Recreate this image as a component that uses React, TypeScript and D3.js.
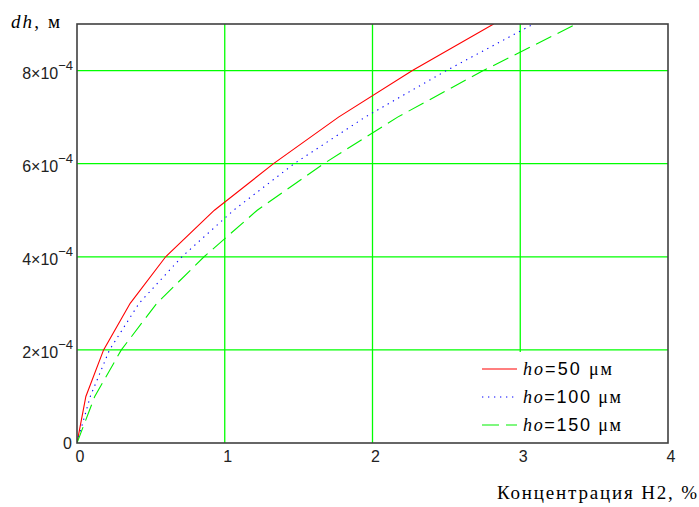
import React from "react";
import * as d3 from "d3";

const dhValues = [0, 1e-4, 2e-4, 3e-4, 4e-4, 5e-4, 6e-4, 7e-4, 8e-4, 9e-4];
const concHo50 = [0, 0.06, 0.18, 0.36, 0.6, 0.93, 1.33, 1.77, 2.27, 2.82];
const concHo100 = [0, 0.09, 0.22, 0.42, 0.71, 1.06, 1.47, 1.95, 2.5, 3.09];
const concHo150 = [0, 0.12, 0.3, 0.54, 0.86, 1.22, 1.67, 2.17, 2.75, 3.38];
const seriesLabels = ["50", "100", "150"];
const xTicks = [0, 1, 2, 3, 4];
const yTicks = [0, 2e-4, 4e-4, 6e-4, 8e-4];
const yTickMant = ["0", "2", "4", "6", "8"];

const W = 699;
const H = 507;
const M = { left: 77, right: 668, top: 24, bottom: 443 };

export default function App() {
  const x = d3.scaleLinear().domain([0, 4]).range([M.left, M.right]);
  const y = d3.scaleLinear().domain([0, 9e-4]).range([M.bottom, M.top]);
  const line = d3
    .line<[number, number]>()
    .x((d) => x(d[0]))
    .y((d) => y(d[1]));

  const series = [
    { data: concHo50, color: "#ff0000", dash: null as string | null, label: seriesLabels[0] },
    { data: concHo100, color: "#0000ff", dash: "1.3,4.7", label: seriesLabels[1] },
    { data: concHo150, color: "#00f000", dash: "17,7", label: seriesLabels[2] },
  ];

  const grid = "#00ff00";
  const sans = "'Liberation Sans', Arial, sans-serif";
  const serif = "'Liberation Serif', 'Times New Roman', serif";

  const legX = 455;
  const legY = 352;
  const rowY = [369, 397, 425];
  const legLen = [89, 98, 98];

  return (
    <svg
      width={W}
      height={H}
      style={{ position: "absolute", left: 0, top: 0, background: "#fff" }}
    >
      <defs>
        <clipPath id="plotclip">
          <rect x={M.left} y={M.top} width={M.right - M.left} height={M.bottom - M.top} />
        </clipPath>
      </defs>
      {/* grid */}
      {xTicks.slice(1, -1).map((t) => (
        <line key={"gx" + t} x1={x(t)} x2={x(t)} y1={M.top} y2={M.bottom} stroke={grid} strokeWidth={1.3} />
      ))}
      {yTicks.slice(1).map((t) => (
        <line key={"gy" + t} x1={M.left} x2={M.right} y1={y(t)} y2={y(t)} stroke={grid} strokeWidth={1.3} />
      ))}
      {/* curves */}
      <g clipPath="url(#plotclip)">
        {series.map((s, i) => (
          <path
            key={i}
            d={line(s.data.map((c, j) => [c, dhValues[j]] as [number, number])) || ""}
            fill="none"
            stroke={s.color}
            strokeWidth={1.1}
            strokeDasharray={s.dash || undefined}
          />
        ))}
      </g>
      {/* legend box */}
      <rect x={legX} y={legY} width={M.right - legX} height={M.bottom - legY} fill="#fff" />
      {series.map((s, i) => (
        <g key={"leg" + i}>
          <line
            x1={482}
            x2={517}
            y1={rowY[i]}
            y2={rowY[i]}
            stroke={s.color}
            strokeWidth={1.1}
            strokeDasharray={s.dash || undefined}
          />
          <text
            x={523}
            y={rowY[i] + 6}
            fontSize={18}
            fill="#000"
            textLength={legLen[i]}
            lengthAdjust="spacing"
          >
            <tspan fontFamily={serif} fontStyle="italic">ho</tspan>
            <tspan fontFamily={sans}>={s.label} </tspan>
            <tspan fontFamily={serif}>μм</tspan>
          </text>
        </g>
      ))}
      {/* frame */}
      <rect
        x={M.left}
        y={M.top}
        width={M.right - M.left}
        height={M.bottom - M.top}
        fill="none"
        stroke="#404040"
        strokeWidth={1.6}
      />
      {/* x tick labels */}
      {xTicks.map((t) => (
        <text key={"xt" + t} x={x(t) + 3} y={462} fontSize={16} fontFamily={sans} textAnchor="middle" fill="#222">
          {t}
        </text>
      ))}
      {/* y tick labels */}
      {yTicks.map((t, i) =>
        t === 0 ? (
          <text key={"yt" + i} x={72} y={y(t) + 6} fontSize={16} fontFamily={sans} textAnchor="end" fill="#222">
            0
          </text>
        ) : (
          <text key={"yt" + i} x={73} y={y(t) + 8} fontSize={16} fontFamily={sans} textAnchor="end" fill="#222">
            {yTickMant[i]}×10
            <tspan dy={-9} fontSize={13}>−4</tspan>
          </text>
        )
      )}
      {/* axis titles */}
      <text x={11} y={28} fontSize={19} fontFamily={serif} fill="#000" textLength={49} lengthAdjust="spacing">
        <tspan fontStyle="italic">dh</tspan>, м
      </text>
      <text
        x={497}
        y={499}
        fontSize={19}
        fontFamily={serif}
        fill="#000"
        textLength={200}
        lengthAdjust="spacing"
      >
        Концентрация Н2, %
      </text>
    </svg>
  );
}
